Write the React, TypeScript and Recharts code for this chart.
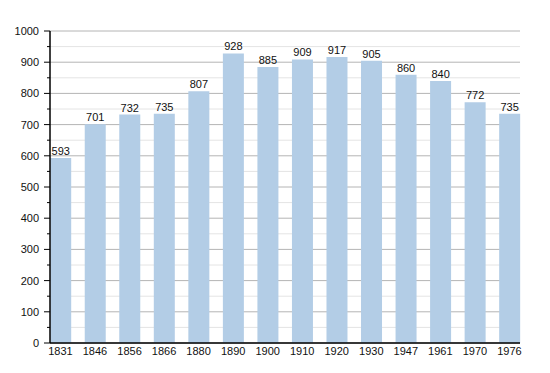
import { BarChart, Bar, XAxis, YAxis, CartesianGrid, LabelList } from "recharts";

const years = ["1831", "1846", "1856", "1866", "1880", "1890", "1900", "1910", "1920", "1930", "1947", "1961", "1970", "1976"];
const population = [593, 701, 732, 735, 807, 928, 885, 909, 917, 905, 860, 840, 772, 735];
const majorTicks = [0, 100, 200, 300, 400, 500, 600, 700, 800, 900, 1000];
const minorTicks = [50, 150, 250, 350, 450, 550, 650, 750, 850, 950];

const data = years.map((year, i) => ({ year, value: population[i] }));
const allTicks = [...majorTicks, ...minorTicks].sort((a, b) => a - b);

document.body.style.margin = "0";

const FONT = "'Liberation Sans', Arial, sans-serif";

// y axis tick: long mark + label on hundreds, short mark on fifties
function YTick(props: any) {
  const { x, y, payload } = props;
  const major = payload.value % 100 === 0;
  return (
    <g>
      <line x1={x - (major ? 6 : 3)} x2={x} y1={y} y2={y} stroke="#000" strokeWidth={1} />
      {major && (
        <text x={x - 11} y={y} dy={4} textAnchor="end" fontSize={11} fontFamily={FONT} fill="#111">
          {payload.value}
        </text>
      )}
    </g>
  );
}

export default function App() {
  return (
    <div style={{ width: 550, height: 373, background: "#fff" }}>
      <BarChart width={550} height={373} data={data} margin={{ top: 31, right: 30, bottom: 0, left: 0 }}>
        <CartesianGrid vertical={false} horizontalValues={minorTicks} stroke="#e4e4e4" />
        <CartesianGrid vertical={false} horizontalValues={majorTicks} stroke="#b4b4b4" />
        <XAxis
          dataKey="year"
          height={30}
          padding={{ left: -6.8, right: -6.7 }}
          tickLine={false}
          tickSize={0}
          tickMargin={4}
          axisLine={{ stroke: "#000", strokeWidth: 1.5 }}
          tick={{ fontSize: 11, fontFamily: FONT, fill: "#111" }}
          interval={0}
        />
        <YAxis
          width={50}
          domain={[0, 1000]}
          ticks={allTicks}
          interval={0}
          tickLine={false}
          tickSize={0}
          tickMargin={0}
          axisLine={{ stroke: "#000", strokeWidth: 1.5 }}
          tick={<YTick />}
        />
        <Bar dataKey="value" fill="#b3cde6" barSize={21} isAnimationActive={false}>
          <LabelList dataKey="value" position="top" offset={3} fontSize={11} fontFamily={FONT} fill="#111" />
        </Bar>
      </BarChart>
    </div>
  );
}
